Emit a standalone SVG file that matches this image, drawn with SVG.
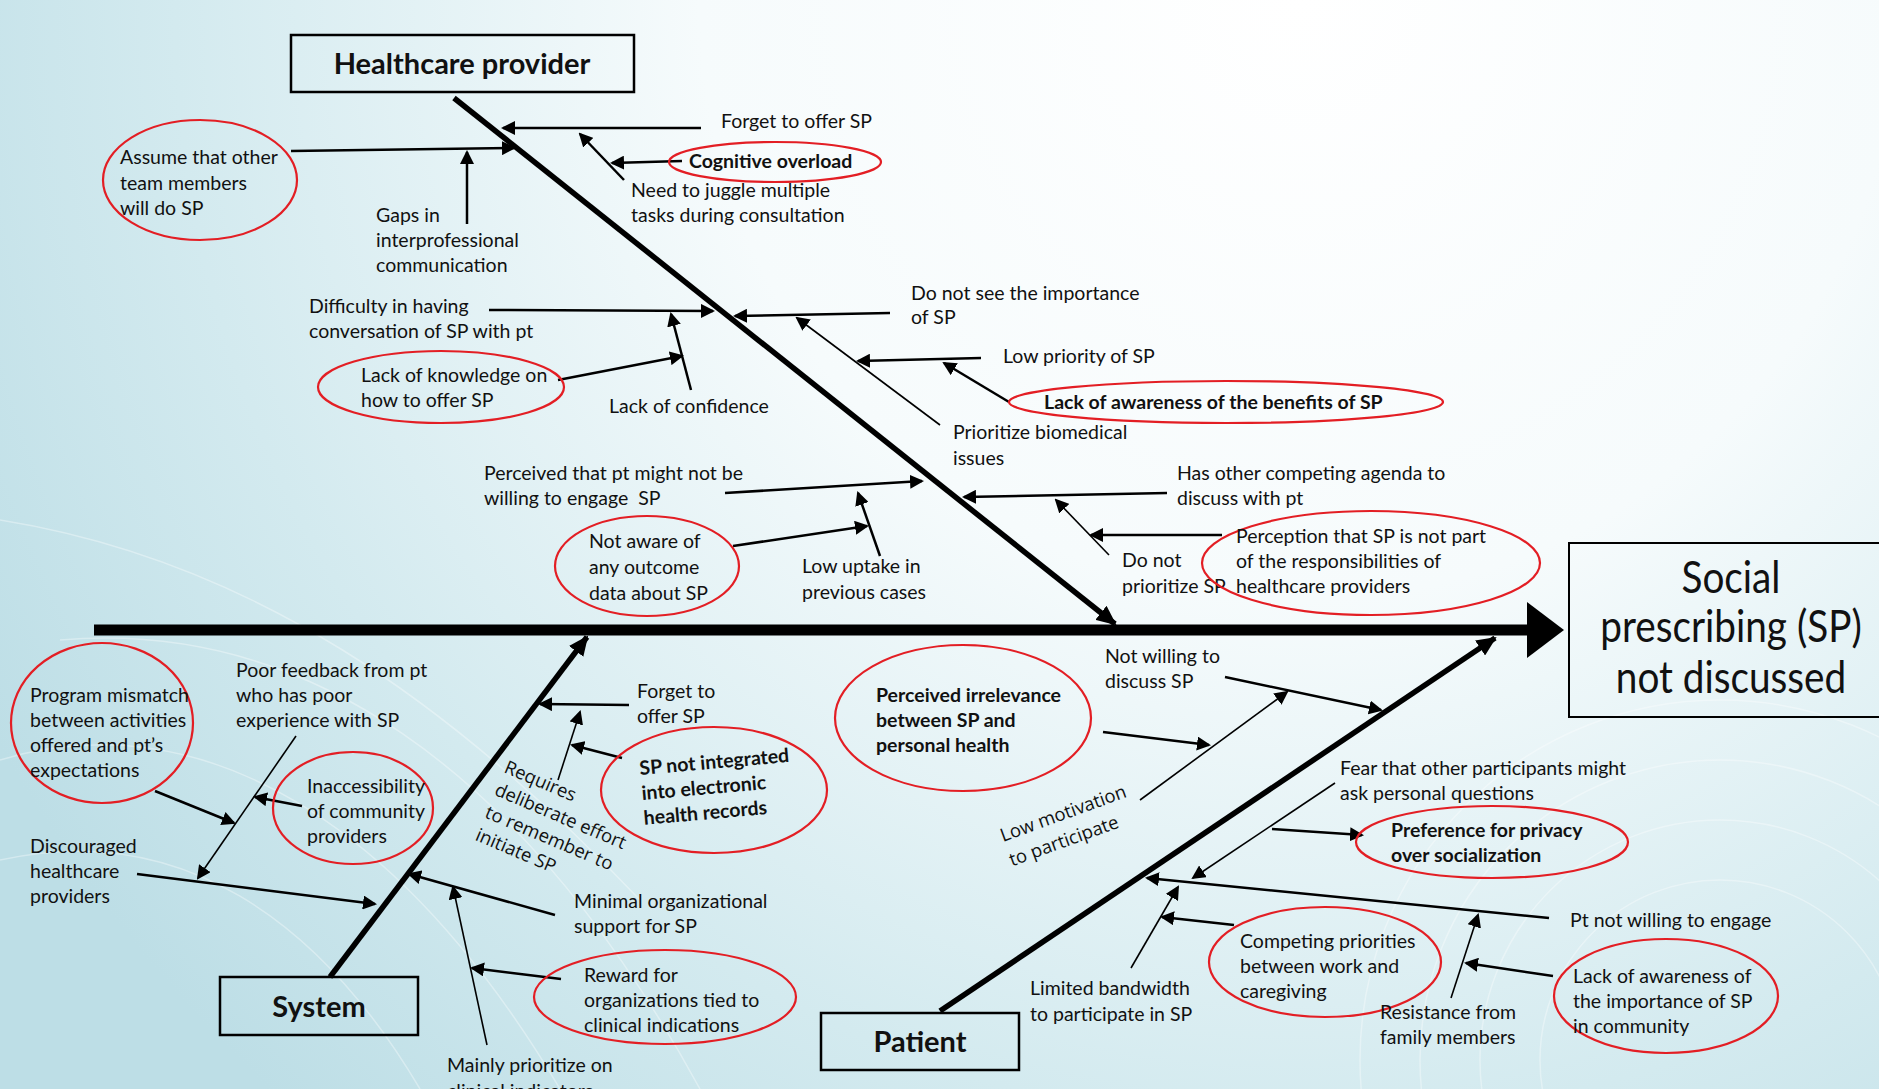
<svg xmlns="http://www.w3.org/2000/svg" width="1879" height="1089" viewBox="0 0 1879 1089">
<defs>
<radialGradient id="bg" gradientUnits="userSpaceOnUse" cx="1300" cy="0" r="1500">
<stop offset="0" stop-color="#ffffff"/>
<stop offset="0.4" stop-color="#f6fbfc"/>
<stop offset="0.75" stop-color="#d3eaef"/>
<stop offset="1" stop-color="#bddee6"/>
</radialGradient>
<marker id="ah" viewBox="0 0 14 14" refX="12" refY="7" markerWidth="14" markerHeight="14" markerUnits="userSpaceOnUse" orient="auto">
<path d="M0,0 L14,7 L0,14 z" fill="#000"/>
</marker>
<marker id="ahb" viewBox="0 0 20 18" refX="18" refY="9" markerWidth="20" markerHeight="18" markerUnits="userSpaceOnUse" orient="auto">
<path d="M0,0 L20,9 L0,18 z" fill="#000"/>
</marker>
<style>
text{font-family:Lato,"Open Sans","Liberation Sans",sans-serif;font-size:19.5px;fill:#111}
.b{font-weight:bold}
.rot{font-family:"Open Sans",Lato,sans-serif;font-size:18.5px}
.title{font-weight:bold;font-size:29px;text-anchor:middle}
.eff{font-size:44px;text-anchor:middle}
.ov{fill:none;stroke:#e31e24;stroke-width:2.2}
.box{fill:none;stroke:#000;stroke-width:2.5}
.c{stroke:#000;stroke-width:2.5;fill:none;marker-end:url(#ah)}
.t{stroke:#000;stroke-width:1.6;fill:none;marker-end:url(#ah)}
.bone{stroke:#000;stroke-width:5.5;fill:none;marker-end:url(#ahb)}
.sw{fill:none;stroke:#ffffff;stroke-opacity:0.35;stroke-width:1.5}
</style>
</defs>
<rect x="0" y="0" width="1879" height="1089" fill="url(#bg)"/>
<g id="background-swirls">
<circle class="sw" cx="1720" cy="1060" r="180"/>
<circle class="sw" cx="1720" cy="1060" r="240"/>
<circle class="sw" cx="1720" cy="1060" r="300"/>
<circle class="sw" cx="1720" cy="1060" r="360"/>
<path class="sw" d="M0,760 C200,700 400,820 560,1089"/>
<path class="sw" d="M0,860 C180,820 320,920 420,1089"/>
<path class="sw" d="M60,640 C300,620 520,760 700,1089"/>
<path class="sw" d="M0,520 C250,560 450,700 640,900"/>
</g>

<g id="spine">
<line x1="94" y1="630" x2="1530" y2="630" stroke="#000" stroke-width="11"/>
<polygon points="1527,602 1564,630 1527,658" fill="#000"/>
</g>

<g id="effect">
<rect x="1569" y="543" width="330" height="174" fill="none" stroke="#000" stroke-width="2"/>
<g transform="translate(1731,0) scale(0.88,1)">
<text class="eff" x="0" y="593">Social</text>
<text class="eff" x="0" y="642">prescribing (SP)</text>
<text class="eff" x="0" y="693">not discussed</text>
</g>
</g>

<g id="cat-healthcare-provider">
<rect class="box" x="291" y="35" width="343" height="57"/>
<text class="title" x="462" y="74">Healthcare provider</text>
</g>
<g id="cat-system">
<rect class="box" x="220" y="977" width="198" height="58"/>
<text class="title" x="319" y="1017">System</text>
</g>
<g id="cat-patient">
<rect class="box" x="821" y="1013" width="198" height="57"/>
<text class="title" x="920" y="1052">Patient</text>
</g>

<g id="connectors">
<line class="bone" x1="454" y1="98" x2="1115" y2="624"/>
<line class="bone" x1="330" y1="977" x2="587" y2="637"/>
<line class="bone" x1="940" y1="1011" x2="1495" y2="638"/>

<line class="c" x1="701" y1="128" x2="503" y2="128"/>
<line class="c" x1="682" y1="161" x2="612" y2="163"/>
<line class="c" x1="624" y1="180" x2="580" y2="134"/>
<line class="c" x1="291" y1="151" x2="514" y2="148"/>
<line class="c" x1="467" y1="224" x2="467" y2="152"/>
<line class="c" x1="489" y1="310" x2="713" y2="311"/>
<line class="c" x1="890" y1="313" x2="735" y2="316"/>
<line class="c" x1="691" y1="390" x2="671" y2="314"/>
<line class="c" x1="558" y1="380" x2="682" y2="356"/>
<line class="c" x1="981" y1="358" x2="858" y2="361"/>
<line class="t" x1="940" y1="425" x2="797" y2="318"/>
<line class="c" x1="1009" y1="402" x2="944" y2="363"/>
<line class="c" x1="725" y1="493" x2="922" y2="481"/>
<line class="c" x1="880" y1="556" x2="858" y2="493"/>
<line class="c" x1="733" y1="546" x2="867" y2="526"/>
<line class="c" x1="1167" y1="493" x2="964" y2="497"/>
<line class="t" x1="1109" y1="555" x2="1056" y2="500"/>
<line class="c" x1="1222" y1="535" x2="1091" y2="535"/>

<line class="c" x1="155" y1="791" x2="234" y2="823"/>
<line class="t" x1="296" y1="736" x2="198" y2="878"/>
<line class="c" x1="302" y1="806" x2="255" y2="797"/>
<line class="c" x1="137" y1="874" x2="375" y2="904"/>
<line class="c" x1="629" y1="705" x2="540" y2="704"/>
<line class="t" x1="558" y1="780" x2="580" y2="712"/>
<line class="c" x1="622" y1="758" x2="572" y2="745"/>
<line class="c" x1="555" y1="915" x2="409" y2="874"/>
<line class="t" x1="487" y1="1045" x2="453" y2="887"/>
<line class="c" x1="561" y1="979" x2="472" y2="968"/>

<line class="c" x1="1103" y1="732" x2="1209" y2="745"/>
<line class="t" x1="1140" y1="800" x2="1287" y2="692"/>
<line class="c" x1="1225" y1="677" x2="1381" y2="710"/>
<line class="t" x1="1335" y1="783" x2="1193" y2="878"/>
<line class="c" x1="1272" y1="829" x2="1362" y2="835"/>
<line class="c" x1="1549" y1="918" x2="1147" y2="878"/>
<line class="t" x1="1131" y1="968" x2="1178" y2="887"/>
<line class="c" x1="1234" y1="925" x2="1162" y2="917"/>
<line class="t" x1="1451" y1="998" x2="1478" y2="915"/>
<line class="c" x1="1553" y1="976" x2="1466" y2="963"/>
</g>

<g id="n-forget-hp"><text x="721" y="128">Forget to offer SP</text></g>
<g id="n-cognitive-overload"><ellipse class="ov" cx="775" cy="162" rx="106" ry="20"/><text class="b" x="689" y="168">Cognitive overload</text></g>
<g id="n-juggle"><text x="631" y="197">Need to juggle multiple</text><text x="631" y="222">tasks during consultation</text></g>
<g id="n-assume"><ellipse class="ov" cx="200" cy="180" rx="97" ry="60"/><text x="120" y="164">Assume that other</text><text x="120" y="190">team members</text><text x="120" y="215">will do SP</text></g>
<g id="n-gaps"><text x="376" y="222">Gaps in</text><text x="376" y="247">interprofessional</text><text x="376" y="272">communication</text></g>
<g id="n-difficulty"><text x="309" y="313">Difficulty in having</text><text x="309" y="338">conversation of SP with pt</text></g>
<g id="n-do-not-see"><text x="911" y="300">Do not see the importance</text><text x="911" y="324">of SP</text></g>
<g id="n-low-priority"><text x="1003" y="363">Low priority of SP</text></g>
<g id="n-lack-awareness-benefits"><ellipse class="ov" cx="1226" cy="402" rx="217" ry="21"/><text class="b" x="1044" y="409">Lack of awareness of the benefits of SP</text></g>
<g id="n-lack-knowledge"><ellipse class="ov" cx="441" cy="387" rx="123" ry="36"/><text x="361" y="382">Lack of knowledge on</text><text x="361" y="407">how to offer SP</text></g>
<g id="n-lack-confidence"><text x="609" y="413">Lack of confidence</text></g>
<g id="n-prioritize-biomedical"><text x="953" y="439">Prioritize biomedical</text><text x="953" y="465">issues</text></g>
<g id="n-perceived-pt"><text x="484" y="480">Perceived that pt might not be</text><text x="484" y="505" xml:space="preserve">willing to engage  SP</text></g>
<g id="n-has-other"><text x="1177" y="480">Has other competing agenda to</text><text x="1177" y="505">discuss with pt</text></g>
<g id="n-not-aware"><ellipse class="ov" cx="647" cy="566" rx="92" ry="50"/><text x="589" y="548">Not aware of</text><text x="589" y="574">any outcome</text><text x="589" y="600">data about SP</text></g>
<g id="n-low-uptake"><text x="802" y="573">Low uptake in</text><text x="802" y="599">previous cases</text></g>
<g id="n-do-not-prioritize"><text x="1122" y="567">Do not</text><text x="1122" y="593">prioritize SP</text></g>
<g id="n-perception"><ellipse class="ov" cx="1371" cy="563" rx="169" ry="52"/><text x="1236" y="543">Perception that SP is not part</text><text x="1236" y="568">of the responsibilities of</text><text x="1236" y="593">healthcare providers</text></g>

<g id="n-program-mismatch"><ellipse class="ov" cx="102" cy="723" rx="91" ry="80"/><text x="30" y="702">Program mismatch</text><text x="30" y="727">between activities</text><text x="30" y="752">offered and pt’s</text><text x="30" y="777">expectations</text></g>
<g id="n-poor-feedback"><text x="236" y="677">Poor feedback from pt</text><text x="236" y="702">who has poor</text><text x="236" y="727">experience with SP</text></g>
<g id="n-inaccessibility"><ellipse class="ov" cx="353" cy="808" rx="80" ry="56"/><text x="307" y="793">Inaccessibility</text><text x="307" y="818">of community</text><text x="307" y="843">providers</text></g>
<g id="n-discouraged"><text x="30" y="853">Discouraged</text><text x="30" y="878">healthcare</text><text x="30" y="903">providers</text></g>
<g id="n-forget-sys"><text x="637" y="698">Forget to</text><text x="637" y="723">offer SP</text></g>
<g id="n-requires" transform="translate(503,772) rotate(23)"><text class="rot" x="0" y="0">Requires</text><text class="rot" x="0" y="24.5">deliberate effort</text><text class="rot" x="0" y="49">to remember to</text><text class="rot" x="0" y="73.5">initiate SP</text></g>
<g id="n-sp-not-integrated"><ellipse class="ov" cx="714" cy="790" rx="113" ry="63"/><g transform="translate(640,775) rotate(-5)"><text class="b" x="0" y="0">SP not integrated</text><text class="b" x="0" y="25">into electronic</text><text class="b" x="0" y="50">health records</text></g></g>
<g id="n-minimal"><text x="574" y="908">Minimal organizational</text><text x="574" y="933">support for SP</text></g>
<g id="n-reward"><ellipse class="ov" cx="665" cy="997" rx="131" ry="47"/><text x="584" y="982">Reward for</text><text x="584" y="1007">organizations tied to</text><text x="584" y="1032">clinical indications</text></g>
<g id="n-mainly"><text x="447" y="1072">Mainly prioritize on</text><text x="447" y="1098">clinical indicators</text></g>

<g id="n-perceived-irrelevance"><ellipse class="ov" cx="963" cy="718" rx="128" ry="73"/><text class="b" x="876" y="702">Perceived irrelevance</text><text class="b" x="876" y="727">between SP and</text><text class="b" x="876" y="752">personal health</text></g>
<g id="n-not-willing"><text x="1105" y="663">Not willing to</text><text x="1105" y="688">discuss SP</text></g>
<g id="n-low-motivation" transform="translate(1003,842) rotate(-20)"><text class="rot" x="0" y="0">Low motivation</text><text class="rot" x="0" y="26">to participate</text></g>
<g id="n-fear"><text x="1340" y="775">Fear that other participants might</text><text x="1340" y="800">ask personal questions</text></g>
<g id="n-preference"><ellipse class="ov" cx="1492" cy="842" rx="136" ry="36"/><text class="b" x="1391" y="837">Preference for privacy</text><text class="b" x="1391" y="862">over socialization</text></g>
<g id="n-pt-not-willing"><text x="1570" y="927">Pt not willing to engage</text></g>
<g id="n-limited"><text x="1030" y="995">Limited bandwidth</text><text x="1030" y="1021">to participate in SP</text></g>
<g id="n-competing"><ellipse class="ov" cx="1325" cy="962" rx="116" ry="55"/><text x="1240" y="948">Competing priorities</text><text x="1240" y="973">between work and</text><text x="1240" y="998">caregiving</text></g>
<g id="n-resistance"><text x="1380" y="1019">Resistance from</text><text x="1380" y="1044">family members</text></g>
<g id="n-lack-awareness-community"><ellipse class="ov" cx="1666" cy="996" rx="112" ry="57"/><text x="1573" y="983">Lack of awareness of</text><text x="1573" y="1008">the importance of SP</text><text x="1573" y="1033">in community</text></g>
</svg>
